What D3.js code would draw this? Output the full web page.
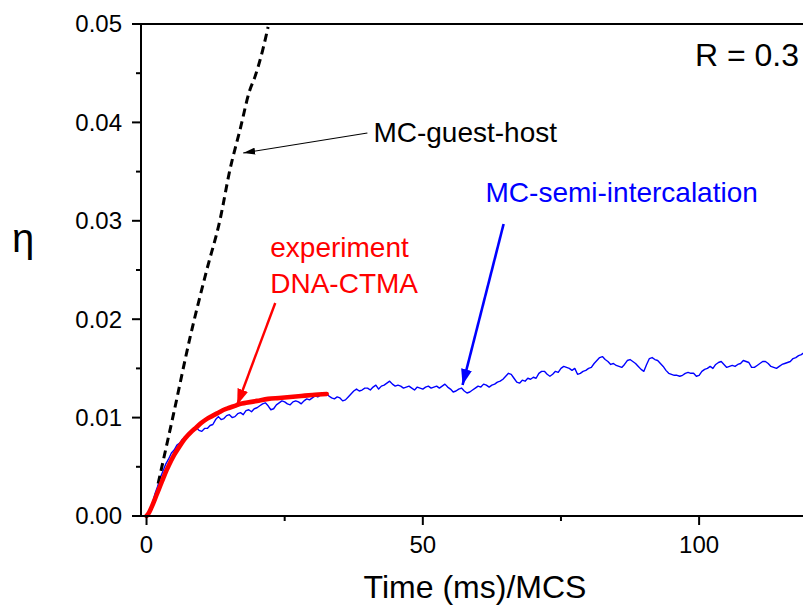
<!DOCTYPE html>
<html>
<head>
<meta charset="utf-8">
<script src="https://cdn.jsdelivr.net/npm/d3@7"></script>
<style>
  html, body { margin: 0; padding: 0; background: #fff; }
  svg { display: block; font-family: "Liberation Sans", Arial, sans-serif; }
</style>
</head>
<body>
<svg id="chart" width="803" height="605"></svg>
<script>
// Guest-host Monte Carlo prediction (dashed black)
const guestTime = [2.1, 4.9, 7.9, 10.9, 13.3, 15.1, 16.9, 18.7, 19.6, 21.0, 22.0];
const guestEta  = [0.0033, 0.0104, 0.0182, 0.0250, 0.0301, 0.0352, 0.0392, 0.0433, 0.0446, 0.0473, 0.0497];

// Measured DNA-CTMA response (thick red)
const expTime = [0, 0.5, 1, 1.5, 2, 2.5, 3, 3.5, 4, 5, 6, 7, 8, 9, 10, 11, 12, 13, 14, 15, 16, 17, 18, 20, 22, 24, 26, 28, 30, 32.6];
const expEta  = [0, 0.0004, 0.0010, 0.0017, 0.0024, 0.0031, 0.0038, 0.0045, 0.0051, 0.0062, 0.0071, 0.0079, 0.0085, 0.0090, 0.0095, 0.0099, 0.0102, 0.0105, 0.0108, 0.0110, 0.0112, 0.0114, 0.0115, 0.0117, 0.0119, 0.0120, 0.0121, 0.0122, 0.0123, 0.0124];

// Semi-intercalation Monte Carlo trace (blue), sampled every 0.5 ms
const semiStep = 0.5;
const semiEta = [
  0.0000, 0.0005, 0.0012, 0.0022, 0.0030, 0.0039, 0.0046, 0.0053, 0.0058, 0.0064,
  0.0067, 0.0072, 0.0074, 0.0078, 0.0080, 0.0084, 0.0086, 0.0089, 0.0090, 0.0087,
  0.0086, 0.0089, 0.0089, 0.0092, 0.0093, 0.0098, 0.0101, 0.0098, 0.0099, 0.0102,
  0.0103, 0.0100, 0.0101, 0.0104, 0.0105, 0.0103, 0.0107, 0.0108, 0.0106, 0.0109,
  0.0110, 0.0112, 0.0114, 0.0115, 0.0112, 0.0108, 0.0109, 0.0113, 0.0115, 0.0117,
  0.0116, 0.0114, 0.0113, 0.0116, 0.0117, 0.0116, 0.0114, 0.0117, 0.0119, 0.0118,
  0.0120, 0.0122, 0.0121, 0.0123, 0.0123, 0.0125, 0.0122, 0.0120, 0.0119, 0.0121,
  0.0120, 0.0117, 0.0118, 0.0121, 0.0124, 0.0127, 0.0129, 0.0127, 0.0128, 0.0130,
  0.0130, 0.0128, 0.0131, 0.0133, 0.0129, 0.0132, 0.0133, 0.0135, 0.0137, 0.0134,
  0.0132, 0.0133, 0.0132, 0.0130, 0.0131, 0.0132, 0.0130, 0.0128, 0.0131, 0.0130,
  0.0129, 0.0131, 0.0132, 0.0130, 0.0131, 0.0132, 0.0130, 0.0132, 0.0134, 0.0131,
  0.0129, 0.0126, 0.0127, 0.0129, 0.0130, 0.0127, 0.0125, 0.0126, 0.0128, 0.0130,
  0.0132, 0.0131, 0.0134, 0.0133, 0.0131, 0.0133, 0.0134, 0.0136, 0.0137, 0.0139,
  0.0142, 0.0145, 0.0144, 0.0140, 0.0136, 0.0135, 0.0138, 0.0137, 0.0140, 0.0139,
  0.0141, 0.0140, 0.0145, 0.0147, 0.0147, 0.0144, 0.0142, 0.0144, 0.0147, 0.0146,
  0.0150, 0.0152, 0.0151, 0.0150, 0.0148, 0.0150, 0.0144, 0.0145, 0.0147, 0.0148,
  0.0150, 0.0151, 0.0155, 0.0158, 0.0161, 0.0162, 0.0159, 0.0157, 0.0154, 0.0155,
  0.0153, 0.0152, 0.0151, 0.0154, 0.0158, 0.0159, 0.0157, 0.0155, 0.0152, 0.0149,
  0.0147, 0.0154, 0.0160, 0.0161, 0.0159, 0.0158, 0.0155, 0.0152, 0.0148, 0.0145,
  0.0144, 0.0143, 0.0143, 0.0142, 0.0143, 0.0145, 0.0146, 0.0145, 0.0145, 0.0142,
  0.0143, 0.0147, 0.0149, 0.0150, 0.0152, 0.0150, 0.0154, 0.0156, 0.0157, 0.0154,
  0.0151, 0.0152, 0.0153, 0.0152, 0.0154, 0.0155, 0.0158, 0.0157, 0.0156, 0.0151,
  0.0151, 0.0153, 0.0155, 0.0157, 0.0157, 0.0155, 0.0152, 0.0151, 0.0150, 0.0152,
  0.0154, 0.0155, 0.0156, 0.0157, 0.0160, 0.0161, 0.0163, 0.0164, 0.0166, 0.0167
];

const xMajorTicks = [0, 50, 100];
const xMinorTicks = [25, 75];
const yMajorTicks = [0, 0.01, 0.02, 0.03, 0.04, 0.05];
const yMinorTicks = [0.005, 0.015, 0.025, 0.035, 0.045];

const svg = d3.select("#chart");
const plotLeft = 141, plotRight = 803, plotTop = 24, plotBottom = 516;

const x = d3.scaleLinear().domain([-1, 118.8]).range([plotLeft, plotRight]);
const y = d3.scaleLinear().domain([0, 0.05]).range([plotBottom, plotTop]);

const defs = svg.append("defs");
defs.append("clipPath").attr("id", "plot-clip")
  .append("rect").attr("x", plotLeft).attr("y", plotTop - 2)
  .attr("width", plotRight - plotLeft).attr("height", plotBottom - plotTop + 4);

function marker(id, color, w, h) {
  defs.append("marker").attr("id", id)
    .attr("viewBox", `0 0 ${w} ${h}`)
    .attr("refX", w).attr("refY", h / 2)
    .attr("markerWidth", w).attr("markerHeight", h)
    .attr("markerUnits", "userSpaceOnUse")
    .attr("orient", "auto")
    .append("path").attr("d", `M0,0L${w},${h / 2}L0,${h}Z`).attr("fill", color);
}
marker("head-black", "#000", 12, 7);
marker("head-red", "#ff0000", 16, 11);
marker("head-blue", "#0000ff", 16, 11);

const plot = svg.append("g").attr("clip-path", "url(#plot-clip)");
const rawLine = d3.line().x(d => x(d[0])).y(d => y(d[1]));
const smoothLine = d3.line().x(d => x(d[0])).y(d => y(d[1])).curve(d3.curveMonotoneX);

// Blue semi-intercalation trace
plot.append("path")
  .datum(semiEta.map((v, i) => [i * semiStep, v]))
  .attr("d", rawLine).attr("fill", "none")
  .attr("stroke", "#0000ff").attr("stroke-width", 1.4).attr("stroke-linejoin", "round");

// Black dashed guest-host curve
plot.append("path")
  .datum(guestTime.map((t, i) => [t, guestEta[i]]))
  .attr("d", smoothLine).attr("fill", "none")
  .attr("stroke", "#000").attr("stroke-width", 3).attr("stroke-dasharray", "8,5");

// Red experiment curve
plot.append("path")
  .datum(expTime.map((t, i) => [t, expEta[i]]))
  .attr("d", smoothLine)
  .attr("fill", "none").attr("stroke", "#ff0000").attr("stroke-width", 4.6)
  .attr("stroke-linecap", "round");

// Frame: left and bottom axes plus top border
const axisG = svg.append("g").attr("stroke", "#000").attr("stroke-width", 2);
axisG.append("line").attr("x1", plotLeft).attr("x2", plotLeft).attr("y1", plotTop).attr("y2", plotBottom + 1);
axisG.append("line").attr("x1", plotLeft - 1).attr("x2", plotRight).attr("y1", plotBottom).attr("y2", plotBottom);
axisG.append("line").attr("x1", plotLeft - 1).attr("x2", plotRight).attr("y1", plotTop).attr("y2", plotTop);

// Y ticks and labels
axisG.selectAll(".ymaj").data(yMajorTicks).join("line").attr("class", "ymaj")
  .attr("x1", plotLeft - 9).attr("x2", plotLeft).attr("y1", d => y(d)).attr("y2", d => y(d));
axisG.selectAll(".ymin").data(yMinorTicks).join("line").attr("class", "ymin")
  .attr("x1", plotLeft - 5).attr("x2", plotLeft).attr("y1", d => y(d)).attr("y2", d => y(d));
svg.append("g").selectAll("text").data(yMajorTicks).join("text")
  .attr("x", 122).attr("y", d => y(d)).attr("dy", "0.35em")
  .attr("text-anchor", "end").attr("font-size", 24).text(d => d3.format(".2f")(d));

// X ticks and labels
axisG.selectAll(".xmaj").data(xMajorTicks).join("line").attr("class", "xmaj")
  .attr("x1", d => x(d)).attr("x2", d => x(d)).attr("y1", plotBottom).attr("y2", plotBottom + 9);
axisG.selectAll(".xmin").data(xMinorTicks).join("line").attr("class", "xmin")
  .attr("x1", d => x(d)).attr("x2", d => x(d)).attr("y1", plotBottom).attr("y2", plotBottom + 5);
svg.append("g").selectAll("text").data(xMajorTicks).join("text")
  .attr("x", d => x(d)).attr("y", 553)
  .attr("text-anchor", "middle").attr("font-size", 24).text(d => d);

// Axis titles
svg.append("text").attr("x", 475).attr("y", 598).attr("text-anchor", "middle")
  .attr("font-size", 32).text("Time (ms)/MCS");
svg.append("text").attr("x", 12).attr("y", 252).attr("font-size", 40).text("η");

// Annotations
svg.append("text").attr("x", 799).attr("y", y(0.04573)).attr("text-anchor", "end")
  .attr("font-size", 32).text("R = 0.3");

svg.append("line")
  .attr("x1", x(39.97)).attr("y1", y(0.03892)).attr("x2", x(17.49)).attr("y2", y(0.03689))
  .attr("stroke", "#000").attr("stroke-width", 1.1).attr("marker-end", "url(#head-black)");
svg.append("text").attr("x", x(41.06)).attr("y", y(0.03801))
  .attr("font-size", 28).text("MC-guest-host");

svg.append("line")
  .attr("x1", x(23.29)).attr("y1", y(0.02165)).attr("x2", x(16.4)).attr("y2", y(0.01128))
  .attr("stroke", "#ff0000").attr("stroke-width", 2.4).attr("marker-end", "url(#head-red)");
const expLabel = svg.append("text").attr("font-size", 28).attr("fill", "#ff0000");
expLabel.append("tspan").attr("x", x(22.39)).attr("y", y(0.02632)).text("experiment");
expLabel.append("tspan").attr("x", x(22.39)).attr("y", y(0.02266)).text("DNA-CTMA");

svg.append("line")
  .attr("x1", x(64.62)).attr("y1", y(0.02967)).attr("x2", x(57.19)).attr("y2", y(0.01331))
  .attr("stroke", "#0000ff").attr("stroke-width", 2.6).attr("marker-end", "url(#head-blue)");
svg.append("text").attr("x", x(61.35)).attr("y", y(0.03191))
  .attr("font-size", 28).attr("fill", "#0000ff").text("MC-semi-intercalation");
</script>
</body>
</html>
